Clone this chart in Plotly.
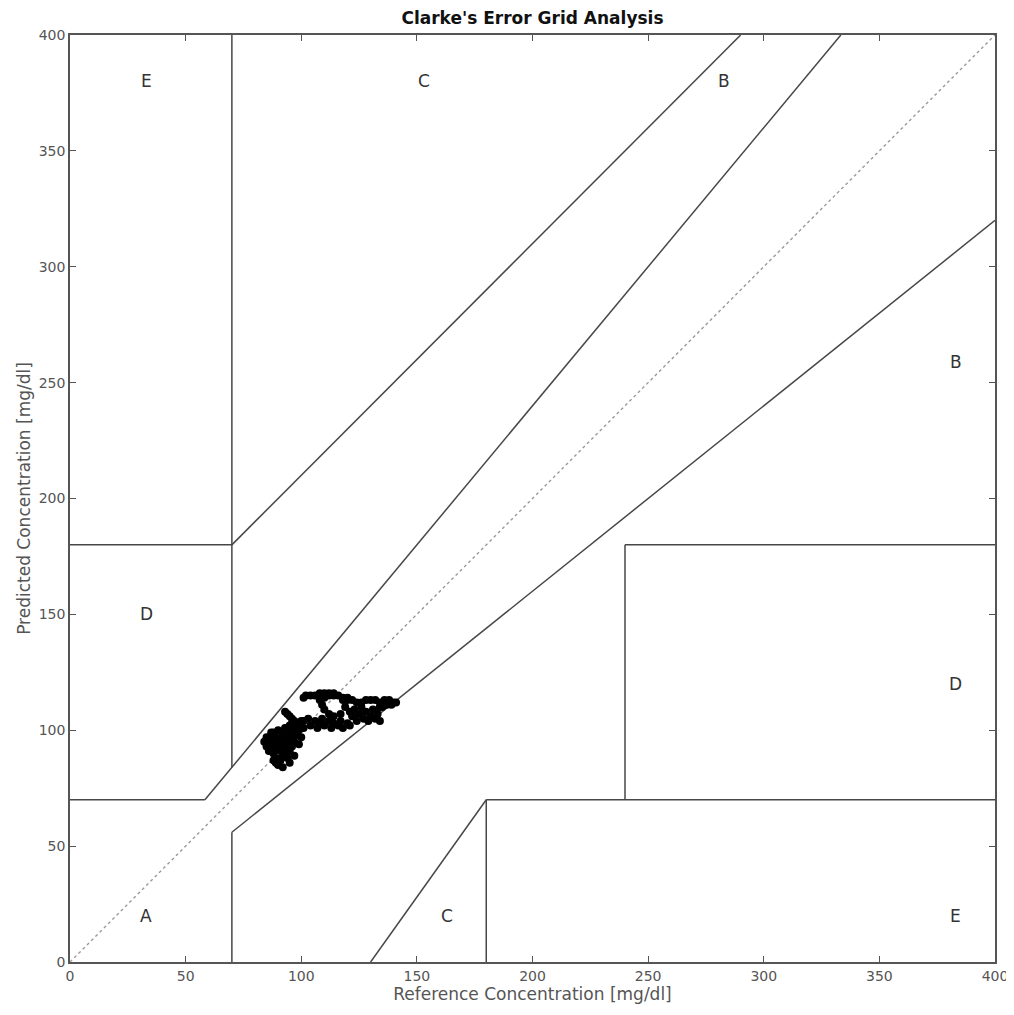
import plotly.graph_objects as go

# Measured data points (reference, predicted) in mg/dl
ref_vals = [84, 85, 86, 86, 87, 87, 88, 88, 88, 89, 89, 89, 90, 90, 90, 91, 91, 91, 92, 92, 92,
            93, 93, 93, 94, 94, 94, 95, 95, 95, 96, 96, 96, 97, 97, 98, 98, 99, 99, 100, 100, 101,
            85, 87, 89, 90, 92, 94, 96, 98, 86, 88, 91, 93, 95, 97,
            93, 94, 95, 96, 97,
            99, 101, 103, 104, 106, 107, 108, 109, 110, 112, 113, 114, 116, 117, 118, 120, 121,
            122, 123, 124, 125, 126, 127, 128, 129, 130, 131, 132, 133, 134, 134,
            108, 109, 110, 110, 112, 112, 114, 114, 116, 117, 118, 119, 120, 121,
            101, 102, 104, 106, 108, 110, 112, 114,
            118, 120, 122, 124, 126, 128, 130, 132, 134, 136, 138, 140, 141, 139, 137, 135]
pred_vals = [95, 93, 96, 94, 92, 97, 95, 90, 99, 93, 88, 86, 85, 96, 100, 91, 94, 87, 98, 89, 84,
             96, 92, 101, 88, 94, 99, 86, 97, 91, 100, 93, 103, 95, 89, 98, 102, 94, 100, 97, 104, 101,
             97, 99, 97, 92, 95, 91, 96, 100, 91, 87, 96, 90, 102, 99,
             108, 107, 106, 105, 104,
             103, 104, 105, 102, 104, 101, 103, 105, 102, 104, 101, 103, 102, 104, 101, 103, 102,
             106, 109, 104, 107, 110, 105, 108, 104, 106, 109, 105, 107, 104, 110,
             113, 111, 109, 114, 107, 115, 106, 115, 115, 107, 113, 110, 114, 108,
             114, 115, 115, 115, 116, 116, 116, 116,
             114, 113, 113, 112, 112, 113, 113, 113, 112, 113, 113, 112, 112, 111, 111, 110]

# Zone boundary segments (x pairs, y pairs)
zone_x = [[0, 175/3], [175/3, 400/1.2], [70, 70], [0, 70], [70, 290], [70, 70], [70, 400],
          [180, 180], [180, 400], [240, 240], [240, 400], [130, 180]]
zone_y = [[70, 70], [70, 400], [84, 400], [180, 180], [180, 400], [0, 56], [56, 320],
          [0, 70], [70, 70], [70, 180], [180, 180], [0, 70]]

diag_x = [0, 400]
diag_y = [0, 400]

zone_labels = ["A", "B", "B", "C", "C", "D", "D", "E", "E"]
label_x = [33, 383, 283, 153, 163, 33, 383, 33, 383]
label_y = [20, 259, 380, 380, 20, 150, 120, 380, 20]

ticks = [0, 50, 100, 150, 200, 250, 300, 350, 400]

FONT = "DejaVu Sans"
W, H = 1006, 999

fig = go.Figure()

fig.add_trace(go.Scatter(x=diag_x, y=diag_y, mode="lines",
                         line=dict(color="#9a9a9a", width=1.4, dash="dot"),
                         hoverinfo="skip", showlegend=False))

lx, ly = [], []
for xs, ys in zip(zone_x, zone_y):
    lx += xs + [None]
    ly += ys + [None]
fig.add_trace(go.Scatter(x=lx, y=ly, mode="lines",
                         line=dict(color="#474747", width=1.5),
                         hoverinfo="skip", showlegend=False))

fig.add_trace(go.Scatter(x=ref_vals, y=pred_vals, mode="markers",
                         marker=dict(color="black", size=8),
                         showlegend=False))

for t, x, y in zip(zone_labels, label_x, label_y):
    fig.add_annotation(x=x, y=y, text=t, showarrow=False,
                       font=dict(family=FONT, size=17, color="#333333"))

axis_common = dict(range=[0, 400], tickvals=ticks, ticks="inside", ticklen=6,
                   tickcolor="#555555", tickwidth=1.2, mirror="ticks", showline=True,
                   linecolor="#555555", linewidth=1.6, showgrid=False, zeroline=False,
                   ticklabeloverflow="allow",
                   tickfont=dict(family=FONT, size=14, color="#555555"))

fig.update_layout(
    width=W, height=H,
    margin=dict(l=62, r=19, t=27, b=45, autoexpand=False),
    plot_bgcolor="white", paper_bgcolor="white",
    title=dict(text="<b>Clarke's Error Grid Analysis</b>", xref="paper", x=0.5,
               xanchor="center", yref="container", y=1 - 10.5 / H, yanchor="middle",
               font=dict(family=FONT, size=17, color="#111111")),
    xaxis=dict(axis_common, title=dict(text="Reference Concentration [mg/dl]", standoff=3,
                                       font=dict(family=FONT, size=17, color="#555555"))),
    yaxis=dict(axis_common, title=dict(text="Predicted Concentration [mg/dl]", standoff=4,
                                       font=dict(family=FONT, size=17, color="#555555"))),
)

fig.write_html("out.html")
